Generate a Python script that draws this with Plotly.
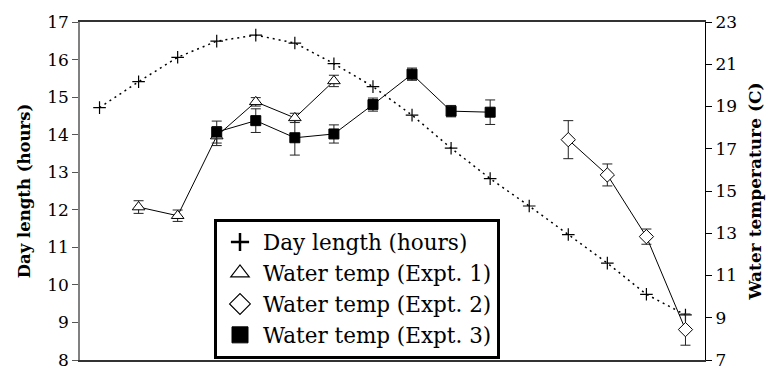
import plotly.graph_objects as go

# Sampling points (equally spaced through the season)
x_idx = list(range(16))

# Day length (hours), left axis
day_length = [14.72, 15.41, 16.06, 16.49, 16.65, 16.44, 15.89, 15.28,
              14.52, 13.64, 12.83, 12.10, 11.34, 10.58, 9.75, 9.20]

# Water temperature (C), right axis, with +/- error
expt1_x = [1, 2, 3, 4, 5, 6]
expt1_temp = [14.24, 13.83, 17.60, 19.22, 18.46, 20.21]
expt1_err = [0.30, 0.27, 0.45, 0.20, 0.22, 0.27]

expt2_x = [12, 13, 14, 15]
expt2_temp = [17.43, 15.76, 12.84, 8.44]
expt2_err = [0.90, 0.52, 0.36, 0.74]

expt3_x = [3, 4, 5, 6, 7, 8, 9, 10]
expt3_temp = [17.79, 18.33, 17.52, 17.70, 19.09, 20.53, 18.78, 18.73]
expt3_err = [0.52, 0.56, 0.82, 0.43, 0.31, 0.29, 0.27, 0.58]

left_ticks = list(range(8, 18))
right_ticks = list(range(7, 24, 2))

FONT = "DejaVu Serif"

fig = go.Figure()

fig.add_trace(go.Scatter(
    x=x_idx, y=day_length, mode="lines+markers", yaxis="y",
    line=dict(color="black", width=1.5, dash="2px,4px"),
    marker=dict(symbol="cross-thin", size=9, line=dict(color="black", width=1.2)),
    showlegend=False, cliponaxis=False,
))


def temp_trace(xs, ys, errs, symbol, size, fill):
    return go.Scatter(
        x=xs, y=ys, mode="lines+markers", yaxis="y2",
        line=dict(color="black", width=1),
        marker=dict(symbol=symbol, size=size, color=fill,
                    line=dict(color="black", width=1)),
        error_y=dict(type="data", array=errs, visible=True,
                     color="#222222", thickness=1, width=5),
        showlegend=False, cliponaxis=False,
    )


fig.add_trace(temp_trace(expt1_x, expt1_temp, expt1_err, "triangle-up", 11, "white"))
fig.add_trace(temp_trace(expt3_x, expt3_temp, expt3_err, "square", 10, "black"))
fig.add_trace(temp_trace(expt2_x, expt2_temp, expt2_err, "diamond", 11, "white"))

# Legend entries (markers only)
legend_items = [
    ("Day length (hours)", "cross-thin", 13, "black", 2.5),
    ("Water temp (Expt. 1)", "triangle-up", 17, "white", 1.2),
    ("Water temp (Expt. 2)", "diamond", 17, "white", 1.2),
    ("Water temp (Expt. 3)", "square", 16, "black", 1),
]
for name, sym, sz, fill, lw in legend_items:
    fig.add_trace(go.Scatter(
        x=[None], y=[None], mode="markers", name=name,
        marker=dict(symbol=sym, size=sz, color=fill,
                    line=dict(color="black", width=lw)),
        showlegend=True,
    ))

fig.update_layout(
    width=777, height=382,
    margin=dict(l=80, r=72, t=13, b=13),
    paper_bgcolor="white", plot_bgcolor="white",
    font=dict(family=FONT, size=17, color="black"),
    xaxis=dict(range=[-0.5, 15.5], showgrid=False, zeroline=False,
               showticklabels=False, ticks="",
               showline=True, linecolor="#333333", linewidth=1.5, mirror=True),
    yaxis=dict(range=[8, 17], tickvals=left_ticks, showgrid=False, zeroline=False,
               ticks="outside", ticklen=6, tickcolor="#555555",
               showline=True, linecolor="#808080", linewidth=1.5,
               title=dict(text="<b>Day length (hours)</b>",
                          font=dict(size=16.5, family=FONT), standoff=12),
               tickfont=dict(size=17, family=FONT)),
    yaxis2=dict(range=[7, 23], tickvals=right_ticks, overlaying="y", side="right",
                showgrid=False, zeroline=False,
                ticks="outside", ticklen=6, tickcolor="black",
                showline=True, linecolor="black", linewidth=1.2,
                title=dict(text="<b>Water temperature (C)</b>",
                           font=dict(size=17, family=FONT), standoff=12),
                tickfont=dict(size=17, family=FONT)),
    legend=dict(x=(214 - 80) / 625, y=1 - (220 - 13) / 356,
                xanchor="left", yanchor="top",
                bgcolor="white", bordercolor="black", borderwidth=3,
                font=dict(size=21.5, family=FONT), itemsizing="trace",
                itemwidth=36, tracegroupgap=0),
)

fig.write_html("out.html")
